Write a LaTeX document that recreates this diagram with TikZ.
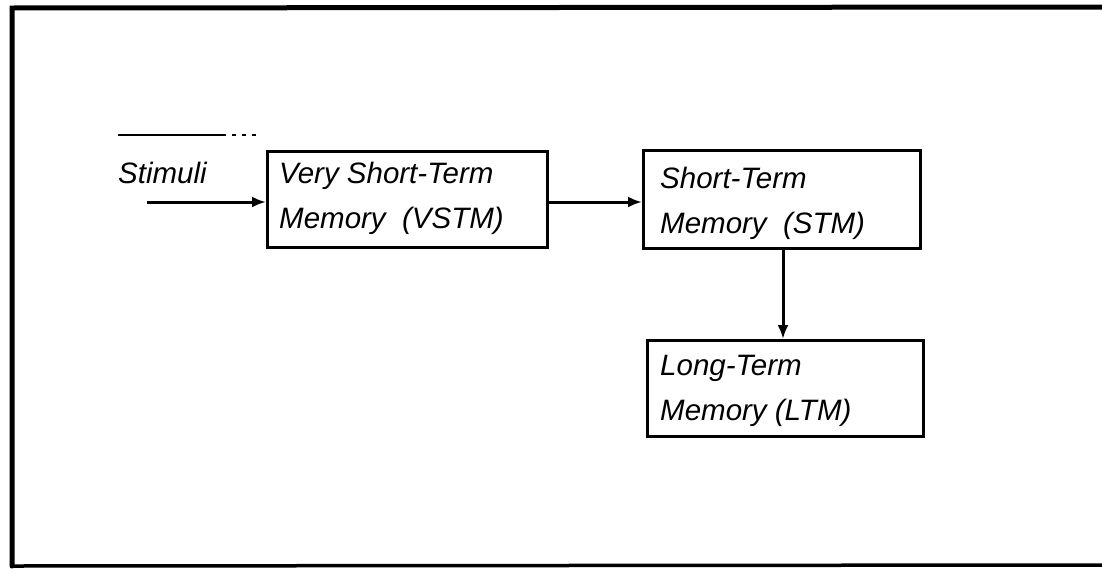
\documentclass[tikz,border=0pt]{standalone}
\usepackage{fontspec}
\setmainfont{Liberation Sans}
\usetikzlibrary{arrows.meta}
\begin{document}
\begin{tikzpicture}[x=1pt,y=-1pt,
  memfont/.style={font=\fontsize{29.5}{45}\selectfont\itshape},
  membox/.style={draw,line width=3pt,anchor=north west,inner sep=0pt},
  memtext/.style={memfont,anchor=base west,inner sep=0pt,align=left},
  conn/.style={line width=3pt,-{Latex[length=14pt,width=11pt]}},
  frameline/.style={line width=5pt}]
\useasboundingbox (0,0) rectangle (1102,568);
% frame
\coordinate (ftl) at (12,8);
\coordinate (fbl) at (12,566);
\coordinate (ftr) at (1102,7);
\coordinate (fbr) at (1102,565);
\draw[frameline,line cap=round] (ftr) -- (ftl) -- (fbl);
\draw[line width=3.5pt] (fbl) -- (fbr);
% line above stimuli
\coordinate (la) at (118,135);
\coordinate (lb) at (222,135);
\coordinate (lc) at (258,135);
\draw[line width=2.5pt] (la) -- (lb);
\draw[line width=2pt,dash pattern=on 4pt off 6pt] (lb) -- (lc);
% stimuli
\node[memtext] (stim) at (118,183) {Stimuli};
\coordinate (sin) at (147,202);
% boxes
\node[membox,minimum width=280pt,minimum height=96pt] (vstm) at (266,150) {};
\node[membox,minimum width=277pt,minimum height=98pt] (stm) at (642,149) {};
\node[membox,minimum width=276pt,minimum height=96pt] (ltm) at (646,339) {};
% texts (anchored at the baseline of the second line)
\node[memtext] (vstmt) at (279,228) {Very Short-Term\\Memory\ \ (VSTM)};
\node[memtext] (stmt) at (660,233) {Short-Term\\Memory\ \ (STM)};
\node[memtext] (ltmt) at (660,420) {Long-Term\\Memory (LTM)};
% connectors
\draw[conn] (sin) -- (sin -| vstm.west);
\draw[conn] (vstm.east |- sin) -- (stm.west |- sin);
\draw[conn] (stm.south -| 783,0) -- (ltm.north -| 783,0);
\end{tikzpicture}
\end{document}
